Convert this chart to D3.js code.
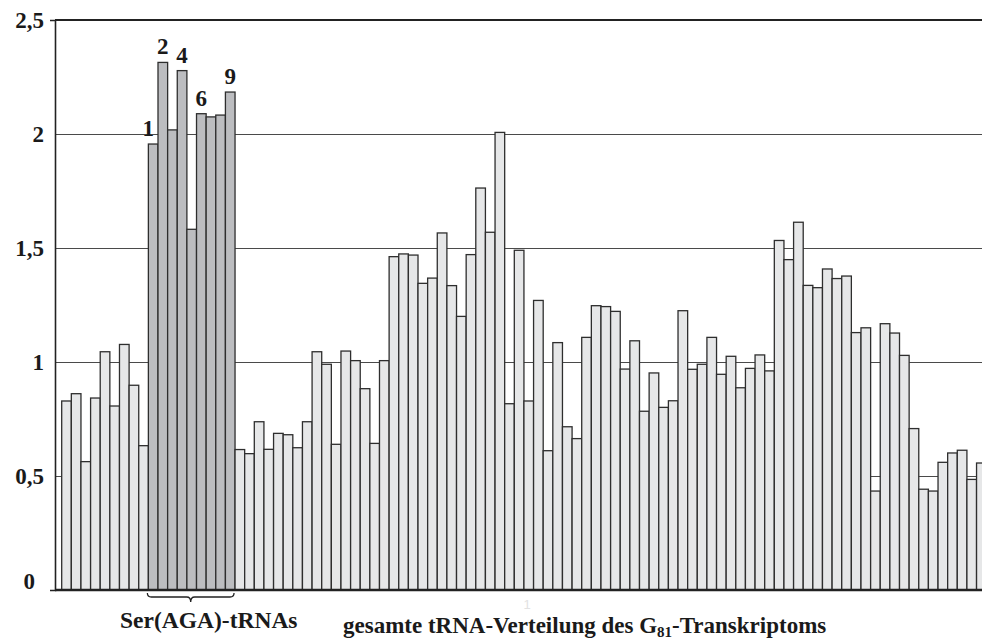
<!DOCTYPE html>
<html>
<head>
<meta charset="utf-8">
<script src="https://cdn.jsdelivr.net/npm/d3@7"></script>
<style>
  html, body { margin: 0; padding: 0; background: #fff; }
  svg { display: block; }
  .serif { font-family: "Liberation Serif", "Times New Roman", serif; font-weight: bold; fill: #1a1a1a; }
</style>
</head>
<body>
<svg id="chart" width="982" height="639"></svg>
<script>
// Relative tRNA abundance, one bar per tRNA species, in order
const values = [
  0.829, 0.861, 0.563, 0.842, 1.045, 0.807, 1.077, 0.898, 0.633,
  1.956, 2.314, 2.018, 2.278, 1.582, 2.089, 2.075, 2.083, 2.184,
  0.616, 0.598, 0.738, 0.617, 0.687, 0.681, 0.624, 0.738, 1.045, 0.990,
  0.639, 1.048, 1.006, 0.883, 0.643, 1.006, 1.462, 1.474, 1.469, 1.345,
  1.368, 1.566, 1.335, 1.200, 1.471, 1.763, 1.569, 2.007, 0.817, 1.490,
  0.829, 1.270, 0.611, 1.085, 0.716, 0.664, 1.108, 1.247, 1.243, 1.222,
  0.969, 1.093, 0.784, 0.952, 0.801, 0.830, 1.225, 0.968, 0.990, 1.108,
  0.946, 1.025, 0.887, 0.972, 1.031, 0.961, 1.533, 1.449, 1.613, 1.336,
  1.326, 1.408, 1.366, 1.377, 1.129, 1.150, 0.434, 1.168, 1.127, 1.029,
  0.708, 0.442, 0.434, 0.560, 0.601, 0.613, 0.485, 0.557
];
const categories = values.map((_, i) => i + 1);

// Ser(AGA) group: first bar index and number of members
const serStart = 9;
const serCount = 9;
// Members of the group that carry a number above their bar
const serLabelled = [1, 2, 4, 6, 9];

const yTicks = [0, 0.5, 1, 1.5, 2, 2.5];
const yTickLabels = ["0", "0,5", "1", "1,5", "2", "2,5"];

const groupLabel = "Ser(AGA)-tRNAs";
const titleMain = "gesamte tRNA-Verteilung des G";
const titleSub = "81";
const titleEnd = "-Transkriptoms";

const svg = d3.select("#chart");
const W = 982;
const plotLeft = 55, plotTop = 20, plotBottom = 590;

const x = d3.scaleBand()
  .domain(categories)
  .range([61.7, 61.7 + 9.63 * categories.length])
  .paddingInner(0).paddingOuter(0);

const y = d3.scaleLinear().domain([0, 2.5]).range([plotBottom, plotTop]);

// horizontal grid lines
svg.append("g")
  .selectAll("line")
  .data(yTicks.filter(t => t > 0 && t < 2.5))
  .join("line")
  .attr("x1", plotLeft).attr("x2", W)
  .attr("y1", d => y(d) + 0.5).attr("y2", d => y(d) + 0.5)
  .attr("stroke", "#4a4a4a").attr("stroke-width", 1);

// top frame line
svg.append("line")
  .attr("x1", plotLeft).attr("x2", W)
  .attr("y1", y(2.5)).attr("y2", y(2.5))
  .attr("stroke", "#222").attr("stroke-width", 2);

const isSer = i => i >= serStart && i < serStart + serCount;

// bars
svg.append("g")
  .selectAll("rect")
  .data(values)
  .join("rect")
  .attr("x", (d, i) => x(categories[i]))
  .attr("width", x.bandwidth())
  .attr("y", d => y(d))
  .attr("height", d => y(0) - y(d))
  .attr("fill", (d, i) => isSer(i) ? "#bcbdc0" : "#e6e7e8")
  .attr("stroke", "#2e2e2e")
  .attr("stroke-width", 1.3);

// y axis
const yAxis = d3.axisLeft(y)
  .tickValues(yTicks)
  .tickFormat((d, i) => yTickLabels[i])
  .tickSizeInner(0)
  .tickSizeOuter(5)
  .tickPadding(11);
const gy = svg.append("g")
  .attr("transform", `translate(${plotLeft},0)`)
  .call(yAxis);
gy.select(".domain").attr("stroke", "#222").attr("stroke-width", 1.6);
gy.selectAll(".tick text")
  .attr("class", "serif")
  .style("font-size", "23px")
  .attr("dy", "0.34em");
gy.selectAll(".tick").filter(d => d === 0).select("text")
  .attr("dx", -9).attr("dy", "-0.05em");

// x baseline
svg.append("line")
  .attr("x1", plotLeft).attr("x2", W)
  .attr("y1", plotBottom).attr("y2", plotBottom)
  .attr("stroke", "#222").attr("stroke-width", 2.4);

// numbers above the Ser(AGA) bars
const labelNudge = { 1: -5 };
svg.append("g")
  .selectAll("text")
  .data(serLabelled)
  .join("text")
  .attr("class", "serif")
  .style("font-size", "23px")
  .attr("text-anchor", "middle")
  .attr("x", n => x(categories[serStart + n - 1]) + x.bandwidth() / 2 + (labelNudge[n] || 0))
  .attr("y", n => y(values[serStart + n - 1]) - 8)
  .text(n => n);

// curly brace under the Ser(AGA) group
const bx0 = x(categories[serStart]) - 1;
const bx1 = x(categories[serStart + serCount - 1]) + x.bandwidth() - 1;
const bm = (bx0 + bx1) / 2;
const by0 = 593, by1 = 597, by2 = 602;
svg.append("path")
  .attr("d", `M${bx0},${by0} Q${bx0},${by1} ${bx0 + 4},${by1} L${bm - 4},${by1} Q${bm},${by1} ${bm},${by2} Q${bm},${by1} ${bm + 4},${by1} L${bx1 - 4},${by1} Q${bx1},${by1} ${bx1},${by0}`)
  .attr("fill", "none").attr("stroke", "#222").attr("stroke-width", 1.3);

svg.append("text")
  .attr("class", "serif")
  .style("font-size", "23.5px")
  .attr("x", 120).attr("y", 628)
  .text(groupLabel);

const t = svg.append("text")
  .attr("class", "serif")
  .style("font-size", "23px")
  .attr("x", 343).attr("y", 633);
t.append("tspan").text(titleMain);
t.append("tspan").attr("dy", 4).style("font-size", "15px").text(titleSub);
t.append("tspan").attr("dy", -4).text(titleEnd);

// faint page marker
svg.append("text")
  .attr("x", 527).attr("y", 609)
  .attr("text-anchor", "middle")
  .style("font-family", "Arial, 'Liberation Sans', sans-serif")
  .style("font-size", "13px")
  .attr("fill", "#e2e2e2")
  .text("1");
</script>
</body>
</html>
